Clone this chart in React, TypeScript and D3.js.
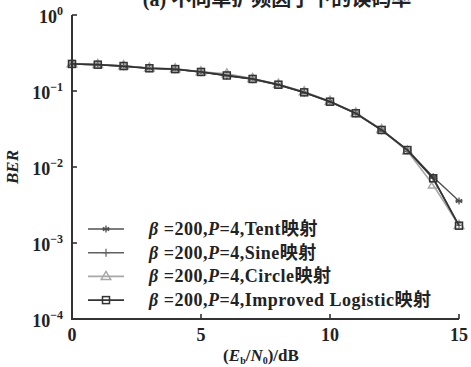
import React from "react";
import * as d3 from "d3";

// Eb/N0 in dB
const snr = [0, 1, 2, 3, 4, 5, 6, 7, 8, 9, 10, 11, 12, 13, 14, 15];

// BER for each chaotic map (β=200, P=4)
const berTent = [0.227, 0.222, 0.213, 0.2, 0.194, 0.178, 0.161, 0.144, 0.121, 0.096, 0.0725, 0.051, 0.0308, 0.0168, 0.0074, 0.00357];
const berSine = [0.226, 0.221, 0.212, 0.199, 0.193, 0.177, 0.16, 0.143, 0.12, 0.095, 0.0718, 0.0505, 0.0305, 0.0165, 0.0071, 0.0017];
const berCircle = [0.229, 0.223, 0.215, 0.201, 0.196, 0.179, 0.168, 0.146, 0.123, 0.098, 0.0735, 0.0515, 0.0311, 0.0162, 0.0058, 0.0017];
const berImproved = [0.227, 0.222, 0.213, 0.199, 0.194, 0.178, 0.16, 0.144, 0.121, 0.096, 0.0723, 0.0509, 0.0307, 0.0167, 0.0071, 0.00169];

const legendNames = ["Tent映射", "Sine映射", "Circle映射", "Improved Logistic映射"];
const yTicks = [1, 0.1, 0.01, 0.001, 0.0001];
const yTickExp = ["0", "-1", "-2", "-3", "-4"];
const xTicks = [0, 5, 10, 15];

type Marker = "star" | "plus" | "tri" | "square";
const seriesList: { data: number[]; color: string; marker: Marker; width: number }[] = [
  { data: berTent, color: "#505050", marker: "star", width: 1.4 },
  { data: berSine, color: "#606060", marker: "plus", width: 1.4 },
  { data: berCircle, color: "#a8a8a8", marker: "tri", width: 1.6 },
  { data: berImproved, color: "#333333", marker: "square", width: 1.8 },
];

const FONT = "Liberation Serif, Noto Sans CJK SC, serif";
const textStyle = { fontFamily: FONT };

function MarkerShape({ kind, x, y, color }: { kind: Marker; x: number; y: number; color: string }) {
  if (kind === "star") {
    const r = 3.6;
    const segs = [0, 60, 120].map((a) => {
      const t = (a * Math.PI) / 180 + Math.PI / 2;
      return `M${x - r * Math.cos(t)},${y - r * Math.sin(t)}L${x + r * Math.cos(t)},${y + r * Math.sin(t)}`;
    });
    return <path d={segs.join("") + `M${x - r},${y}L${x + r},${y}`} stroke={color} strokeWidth={1.3} fill="none" />;
  }
  if (kind === "plus") {
    const r = 4;
    return <path d={`M${x - r},${y}L${x + r},${y}M${x},${y - r}L${x},${y + r}`} stroke={color} strokeWidth={1.2} fill="none" />;
  }
  if (kind === "tri") {
    const r = 5;
    return (
      <path
        d={`M${x},${y - r}L${x + r * 0.95},${y + r * 0.6}L${x - r * 0.95},${y + r * 0.6}Z`}
        stroke={color}
        strokeWidth={1.5}
        fill="none"
      />
    );
  }
  const s = 3.5;
  return <rect x={x - s} y={y - s} width={2 * s} height={2 * s} stroke={color} strokeWidth={1.5} fill="none" />;
}

export default function App() {
  const W = 471;
  const H = 367;
  const x = d3.scaleLinear().domain([0, 15]).range([72, 459]);
  const y = d3.scaleLog().domain([1e-4, 1]).range([319, 15]);
  const line = d3
    .line<number>()
    .x((_, i) => x(snr[i]))
    .y((d) => y(d));

  const axisColor = "#333";
  const legendY0 = 229;
  const legendStep = 23.7;

  return (
    <svg width={W} height={H} style={{ position: "absolute", left: 0, top: 0, background: "#fff" }}>
      {/* title, partly above the top edge */}
      <text x={277} y={6} textAnchor="middle" fontSize={20} fontWeight="bold" fill="#222" style={textStyle}>
        (a) 不同单扩频因子下的误码率
      </text>

      {/* series */}
      {seriesList.map((s, si) => (
        <g key={si}>
          <path d={line(s.data) || ""} stroke={s.color} strokeWidth={s.width} fill="none" />
          {s.data.map((v, i) => (
            <MarkerShape key={i} kind={s.marker} x={x(snr[i])} y={y(v)} color={s.color} />
          ))}
        </g>
      ))}

      {/* axes */}
      <path d={`M${x(0)},${y(1)}L${x(0)},${y(1e-4)}L${x(15)},${y(1e-4)}`} stroke={axisColor} strokeWidth={2} fill="none" />
      {yTicks.slice(0, 4).map((t, i) => (
        <line key={i} x1={x(0)} x2={x(0) + 5} y1={y(t)} y2={y(t)} stroke={axisColor} strokeWidth={1.6} />
      ))}
      {xTicks.slice(1).map((t, i) => (
        <line key={i} x1={x(t)} x2={x(t)} y1={y(1e-4)} y2={y(1e-4) - 5} stroke={axisColor} strokeWidth={1.6} />
      ))}

      {/* y tick labels */}
      {yTicks.map((t, i) => (
        <text key={i} x={63} y={y(t) + 8} textAnchor="end" fontSize={18} fontWeight="bold" fill="#222" style={textStyle}>
          10
          <tspan fontSize={12} dy={-8}>
            {yTickExp[i] === "0" ? "0" : "\u2212" + yTickExp[i].slice(1)}
          </tspan>
        </text>
      ))}

      {/* x tick labels */}
      {xTicks.map((t, i) => (
        <text key={i} x={x(t)} y={341} textAnchor="middle" fontSize={18} fontWeight="bold" fill="#222" style={textStyle}>
          {t}
        </text>
      ))}

      {/* axis titles */}
      <text x={261} y={361} textAnchor="middle" fontSize={17} fontWeight="bold" fill="#222" style={textStyle}>
        (<tspan fontStyle="italic">E</tspan>
        <tspan fontSize={10} dy={3}>b</tspan>
        <tspan dy={-3}>/</tspan>
        <tspan fontStyle="italic">N</tspan>
        <tspan fontSize={10} dy={3}>0</tspan>
        <tspan dy={-3}>)/dB</tspan>
      </text>
      <text
        transform={`translate(18,167) rotate(-90)`}
        textAnchor="middle"
        fontSize={17}
        fontWeight="bold"
        fontStyle="italic"
        fill="#222"
        style={textStyle}
      >
        BER
      </text>

      {/* legend */}
      {seriesList.map((s, i) => {
        const ly = legendY0 + i * legendStep;
        return (
          <g key={i}>
            <line x1={88} x2={124} y1={ly} y2={ly} stroke={s.color} strokeWidth={s.width} />
            <MarkerShape kind={s.marker} x={106} y={ly} color={s.color} />
            <text x={149} y={ly + 6} fontSize={18} fontWeight="bold" fill="#222" letterSpacing={0.5} style={textStyle}>
              <tspan fontStyle="italic">β</tspan> =200,<tspan fontStyle="italic">P</tspan>=4,{legendNames[i]}
            </text>
          </g>
        );
      })}
    </svg>
  );
}
